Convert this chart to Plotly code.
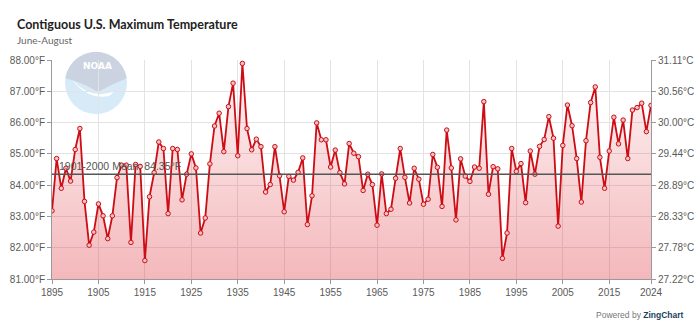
import numpy as np
import plotly.graph_objects as go

years = list(range(1895, 2025))
temps_f = [
    83.18, 84.85, 83.90, 84.54, 84.13, 85.14, 85.81, 83.48, 82.08, 82.50,  # 1895-1904
    83.40, 83.02, 82.29, 83.02, 84.24, 84.64, 84.64, 82.17, 84.66, 84.60,  # 1905-1914
    81.59, 83.63, 84.40, 85.38, 85.17, 83.09, 85.17, 85.14, 83.53, 84.35,  # 1915-1924
    85.00, 84.55, 82.47, 82.95, 84.68, 85.89, 86.30, 85.07, 86.51, 87.26,  # 1925-1934
    84.94, 87.89, 85.81, 85.13, 85.47, 85.23, 83.78, 84.02, 85.23, 84.30,  # 1935-1944
    83.15, 84.28, 84.16, 84.41, 84.87, 82.74, 83.66, 85.99, 85.45, 85.45,  # 1945-1954
    84.58, 85.12, 84.40, 84.04, 85.33, 85.02, 84.91, 83.83, 84.35, 84.02,  # 1955-1964
    82.72, 84.36, 83.09, 83.23, 84.22, 85.17, 84.25, 83.43, 84.54, 84.19,  # 1965-1974
    83.39, 83.55, 84.98, 84.57, 83.32, 85.76, 84.55, 82.89, 84.84, 84.29,  # 1975-1984
    84.12, 84.58, 84.54, 86.67, 83.71, 84.59, 84.52, 81.66, 82.47, 85.17,  # 1985-1994
    84.44, 84.69, 83.44, 85.09, 84.35, 85.24, 85.46, 86.19, 85.50, 82.69,  # 1995-2004
    85.27, 86.56, 85.90, 84.85, 83.46, 85.42, 86.64, 87.14, 84.89, 83.90,  # 2005-2014
    85.09, 86.17, 85.32, 86.08, 84.85, 86.40, 86.48, 86.62, 85.71, 86.55,  # 2015-2024
]
MEAN_F = 84.35
mean_label = "1901-2000 Mean: 84.35°F"
x_ticks = [1895, 1905, 1915, 1925, 1935, 1945, 1955, 1965, 1975, 1985, 1995, 2005, 2015, 2024]
y_ticks_f = [81, 82, 83, 84, 85, 86, 87, 88]
title_text = "Contiguous U.S. Maximum Temperature"
subtitle_text = "June-August"


def f_to_c(f):
    return (f - 32) * 5 / 9


y_ticks_c = [f_to_c(f) for f in y_ticks_f]
temps_c = [f_to_c(t) for t in temps_f]

# Figure geometry (pixels)
W, H = 700, 330
L, R, T, B = 52, 49, 60, 51
PW, PH = W - L - R, H - T - B


def px(x):
    return (x - L) / PW


def py(y):
    return (H - B - y) / PH


fig = go.Figure()

fig.add_trace(go.Scatter(
    x=years, y=temps_f, mode="lines+markers",
    line=dict(color="rgb(205,12,20)", width=1.8),
    marker=dict(size=4.5, color="rgb(245,195,197)", line=dict(color="rgb(205,12,20)", width=1)),
    fill="tozeroy",
    fillgradient=dict(type="vertical", start=81, stop=88,
                      colorscale=[[0, "rgba(222,45,55,0.34)"], [1, "rgba(222,45,55,0.04)"]]),
    showlegend=False, hoverinfo="x+y",
))
fig.add_trace(go.Scatter(
    x=years, y=temps_c, yaxis="y2", mode="lines", opacity=0,
    showlegend=False, hoverinfo="skip",
))

tick_font = dict(family="Liberation Sans, Arial, sans-serif", size=10, color="#5a5a5a")

fig.update_layout(
    width=W, height=H,
    margin=dict(l=L, r=R, t=T, b=B, autoexpand=False),
    paper_bgcolor="white", plot_bgcolor="white",
    xaxis=dict(
        range=[1895, 2024], tickvals=x_ticks, ticktext=[str(t) for t in x_ticks],
        showgrid=True, gridcolor="#e3e3e3", gridwidth=1,
        showline=True, linecolor="#9a9a9a", linewidth=1,
        ticks="outside", ticklen=4, tickcolor="#9a9a9a",
        tickfont=tick_font, zeroline=False,
    ),
    yaxis=dict(
        range=[81, 88], tickvals=y_ticks_f, ticktext=[f"{v:.2f}°F" for v in y_ticks_f],
        showgrid=True, gridcolor="#e3e3e3", gridwidth=1,
        showline=True, linecolor="#9a9a9a", linewidth=1,
        ticks="outside", ticklen=4, tickcolor="#9a9a9a",
        tickfont=tick_font, zeroline=False,
    ),
    yaxis2=dict(
        overlaying="y", side="right",
        range=[f_to_c(81), f_to_c(88)], tickvals=y_ticks_c,
        ticktext=[f"{v:.2f}°C" for v in y_ticks_c],
        showgrid=False, showline=True, linecolor="#9a9a9a", linewidth=1,
        ticks="outside", ticklen=4, tickcolor="#9a9a9a",
        tickfont=tick_font, zeroline=False,
    ),
)

# NOAA watermark (approximate)
cx, cy, r = 96, 83, 31
fig.add_shape(type="circle", xref="paper", yref="paper", layer="below",
              x0=px(cx - r), x1=px(cx + r), y0=py(cy + r), y1=py(cy - r),
              fillcolor="rgb(214,234,248)", line=dict(width=0))
ang = np.linspace(np.pi * 0.95, np.pi * 0.05, 30)
pts = [(cx + r * np.cos(a), cy - r * np.sin(a)) for a in ang]
path = "M " + " L ".join(f"{px(x):.4f},{py(y):.4f}" for x, y in pts)
path += f" Q {px(112):.4f},{py(84):.4f} {px(98):.4f},{py(92):.4f}"
path += f" Q {px(82):.4f},{py(82):.4f} {px(pts[0][0]):.4f},{py(pts[0][1]):.4f} Z"
fig.add_shape(type="path", path=path, xref="paper", yref="paper", layer="below",
              fillcolor="rgb(203,211,225)", line=dict(width=0))
wpath = (f"M {px(72):.4f},{py(80):.4f} Q {px(92):.4f},{py(101):.4f} {px(115):.4f},{py(91):.4f}"
         f" L {px(109):.4f},{py(96):.4f} Q {px(88):.4f},{py(100):.4f} {px(72):.4f},{py(80):.4f} Z")
fig.add_shape(type="path", path=wpath, xref="paper", yref="paper", layer="below",
              fillcolor="white", line=dict(width=0))
fig.add_annotation(x=px(97), y=py(66), xref="paper", yref="paper", xanchor="center",
                   yanchor="middle", text="<b>NOAA</b>", showarrow=False,
                   font=dict(family="DejaVu Sans", size=9, color="white"))

# Mean line
fig.add_shape(type="line", xref="paper", yref="y", x0=0, x1=1, y0=MEAN_F, y1=MEAN_F,
              line=dict(color="#555555", width=1.5))
fig.add_annotation(x=0, xref="paper", y=MEAN_F, yref="y", xanchor="left", yanchor="bottom",
                   xshift=5, yshift=0, text=mean_label, showarrow=False,
                   font=dict(family="Liberation Sans, Arial, sans-serif", size=10.5, color="#555555"))

# Title, subtitle, credit (positions in figure pixels -> plot paper coords)
fig.add_annotation(x=px(15), y=py(25), xref="paper", yref="paper", yanchor="middle",
                   xanchor="left", text=f"<b>{title_text}</b>", showarrow=False,
                   font=dict(family="Lato, sans-serif", size=12.5, color="#222222"))
fig.add_annotation(x=px(15), y=py(40), xref="paper", yref="paper", yanchor="middle",
                   xanchor="left", text=subtitle_text, showarrow=False,
                   font=dict(family="Lato, sans-serif", size=10, color="#666666"))
fig.add_annotation(x=px(686), y=py(315), xref="paper", yref="paper", yanchor="middle",
                   xanchor="right", showarrow=False,
                   text="<span style='color:#777'>Powered by </span><b><span style='color:#1c3f5e'>ZingChart</span></b>",
                   font=dict(family="Liberation Sans, Arial, sans-serif", size=8.5))

fig.write_html("out.html")
